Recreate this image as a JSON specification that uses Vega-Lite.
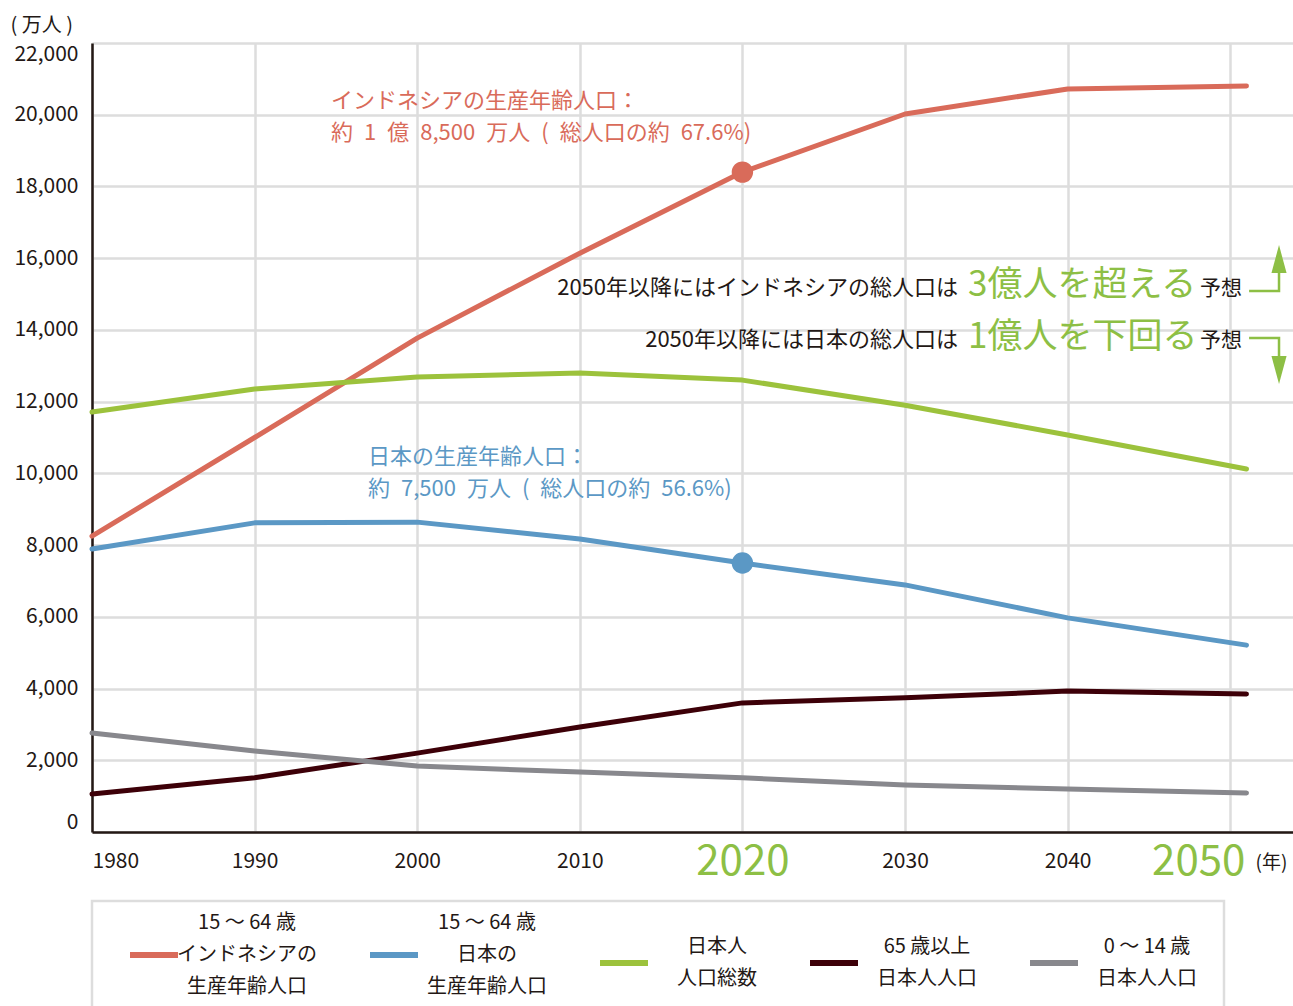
{
  "$schema": "https://vega.github.io/schema/vega-lite/v6.json",
  "width": 1201,
  "height": 789,
  "autosize": {"type": "none"},
  "padding": {"left": 92, "top": 43, "right": 0, "bottom": 174},
  "background": "white",
  "config": {
    "font": "Noto Sans CJK JP",
    "view": {"stroke": null},
    "style": {"guide-label": {"lineHeight": 32}},
    "axis": {
      "domainColor": "#231815",
      "domainWidth": 2.5,
      "gridColor": "#dddddd",
      "gridWidth": 2.5,
      "ticks": false,
      "labelColor": "#231815",
      "labelFontSize": 21,
      "titleColor": "#231815",
      "titleFontWeight": "normal"
    },
    "legend": {"strokeWidth": 2.5}
  },
  "datasets": {
    "pop": [
      {"series": "15 ～ 64 歳|インドネシアの|生産年齢人口", "year": 1980, "value": 8250},
      {"series": "15 ～ 64 歳|インドネシアの|生産年齢人口", "year": 1990, "value": 11000},
      {"series": "15 ～ 64 歳|インドネシアの|生産年齢人口", "year": 2000, "value": 13770},
      {"series": "15 ～ 64 歳|インドネシアの|生産年齢人口", "year": 2010, "value": 16140},
      {"series": "15 ～ 64 歳|インドネシアの|生産年齢人口", "year": 2020, "value": 18400},
      {"series": "15 ～ 64 歳|インドネシアの|生産年齢人口", "year": 2030, "value": 20020},
      {"series": "15 ～ 64 歳|インドネシアの|生産年齢人口", "year": 2040, "value": 20720},
      {"series": "15 ～ 64 歳|インドネシアの|生産年齢人口", "year": 2051, "value": 20800},
      {"series": "15 ～ 64 歳|日本の|生産年齢人口", "year": 1980, "value": 7890},
      {"series": "15 ～ 64 歳|日本の|生産年齢人口", "year": 1990, "value": 8620},
      {"series": "15 ～ 64 歳|日本の|生産年齢人口", "year": 2000, "value": 8640},
      {"series": "15 ～ 64 歳|日本の|生産年齢人口", "year": 2010, "value": 8170},
      {"series": "15 ～ 64 歳|日本の|生産年齢人口", "year": 2020, "value": 7500},
      {"series": "15 ～ 64 歳|日本の|生産年齢人口", "year": 2030, "value": 6890},
      {"series": "15 ～ 64 歳|日本の|生産年齢人口", "year": 2040, "value": 5970},
      {"series": "15 ～ 64 歳|日本の|生産年齢人口", "year": 2051, "value": 5210},
      {"series": "日本人|人口総数", "year": 1980, "value": 11710},
      {"series": "日本人|人口総数", "year": 1990, "value": 12350},
      {"series": "日本人|人口総数", "year": 2000, "value": 12690},
      {"series": "日本人|人口総数", "year": 2010, "value": 12800},
      {"series": "日本人|人口総数", "year": 2020, "value": 12600},
      {"series": "日本人|人口総数", "year": 2030, "value": 11900},
      {"series": "日本人|人口総数", "year": 2040, "value": 11070},
      {"series": "日本人|人口総数", "year": 2051, "value": 10120},
      {"series": "65 歳以上|日本人人口", "year": 1980, "value": 1060},
      {"series": "65 歳以上|日本人人口", "year": 1990, "value": 1510},
      {"series": "65 歳以上|日本人人口", "year": 2000, "value": 2200},
      {"series": "65 歳以上|日本人人口", "year": 2010, "value": 2930},
      {"series": "65 歳以上|日本人人口", "year": 2020, "value": 3600},
      {"series": "65 歳以上|日本人人口", "year": 2030, "value": 3740},
      {"series": "65 歳以上|日本人人口", "year": 2040, "value": 3930},
      {"series": "65 歳以上|日本人人口", "year": 2051, "value": 3850},
      {"series": "0 ～ 14 歳|日本人人口", "year": 1980, "value": 2760},
      {"series": "0 ～ 14 歳|日本人人口", "year": 1990, "value": 2260},
      {"series": "0 ～ 14 歳|日本人人口", "year": 2000, "value": 1840},
      {"series": "0 ～ 14 歳|日本人人口", "year": 2010, "value": 1670},
      {"series": "0 ～ 14 歳|日本人人口", "year": 2020, "value": 1510},
      {"series": "0 ～ 14 歳|日本人人口", "year": 2030, "value": 1310},
      {"series": "0 ～ 14 歳|日本人人口", "year": 2040, "value": 1200},
      {"series": "0 ～ 14 歳|日本人人口", "year": 2051, "value": 1090}
    ],
    "callouts": [
      {"kind": "indo", "year": 1994.7, "value": 20380, "text": "インドネシアの生産年齢人口：\n約\u20021\u2002億\u20028,500\u2002万人\u2002(\u2002総人口の約\u200267.6%)"},
      {"kind": "japan", "year": 1996.97, "value": 10455, "text": "日本の生産年齢人口：\n約\u20027,500\u2002万人\u2002(\u2002総人口の約\u200256.6%)"}
    ],
    "notes": [
      {"kind": "lead", "year": 2033.26, "value": 14972, "text": "2050年以降にはインドネシアの総人口は"},
      {"kind": "lead", "year": 2033.26, "value": 13522, "text": "2050年以降には日本の総人口は"},
      {"kind": "big", "year": 2033.87, "value": 14944, "text": "3億人を超える"},
      {"kind": "big", "year": 2033.87, "value": 13494, "text": "1億人を下回る"},
      {"kind": "tail", "year": 2050.72, "value": 14972, "text": "予想"},
      {"kind": "tail", "year": 2050.72, "value": 13522, "text": "予想"}
    ],
    "arrows": [
      {"arrow": "up", "step": 1, "year": 2051.16, "value": 15083},
      {"arrow": "up", "step": 2, "year": 2053.0, "value": 15083},
      {"arrow": "up", "step": 3, "year": 2053.0, "value": 15585},
      {"arrow": "down", "step": 1, "year": 2051.16, "value": 13773},
      {"arrow": "down", "step": 2, "year": 2053.0, "value": 13773},
      {"arrow": "down", "step": 3, "year": 2053.0, "value": 13243}
    ],
    "heads": [
      {"arrow": "up", "year": 2053.0, "value": 15975},
      {"arrow": "down", "year": 2053.0, "value": 12881}
    ]
  },
  "encoding": {
    "x": {
      "field": "year",
      "type": "quantitative",
      "scale": {"domain": [1980, 2053.86], "nice": false, "zero": false},
      "axis": {
        "values": [1980, 1990, 2000, 2010, 2020, 2030, 2040, 2050],
        "format": "d",
        "labelFlush": true,
        "labelPadding": 29,
        "labelBaseline": "middle",
        "grid": true,
        "title": "(年)",
        "titleX": 1179,
        "titleY": 30,
        "titleAlign": "center",
        "titleBaseline": "middle",
        "titleFontSize": 19,
        "labelColor": {"condition": {"test": "datum.value == 2020 || datum.value == 2050", "value": "#8dbf45"}, "value": "#231815"},
        "labelFontSize": {"condition": {"test": "datum.value == 2020 || datum.value == 2050", "value": 42}, "value": 21},
        "labelOffset": {"condition": {"test": "datum.value == 2050", "value": -32}, "value": 0}
      }
    },
    "y": {
      "field": "value",
      "type": "quantitative",
      "scale": {"domain": [0, 22000], "nice": false, "zero": true},
      "axis": {
        "values": [0, 2000, 4000, 6000, 8000, 10000, 12000, 14000, 16000, 18000, 20000, 22000],
        "format": ",d",
        "labelFlush": true,
        "labelPadding": 14,
        "grid": true,
        "title": "( 万人 )",
        "titleAngle": 0,
        "titleX": -82,
        "titleY": -18,
        "titleAlign": "left",
        "titleBaseline": "middle",
        "titleFontSize": 20
      }
    }
  },
  "layer": [
    {
      "data": {"name": "pop"},
      "mark": {"type": "line", "strokeWidth": 5, "strokeCap": "round", "strokeJoin": "round"},
      "encoding": {
        "color": {
          "field": "series",
          "type": "nominal",
          "scale": {
            "domain": ["15 ～ 64 歳|インドネシアの|生産年齢人口", "15 ～ 64 歳|日本の|生産年齢人口", "日本人|人口総数", "65 歳以上|日本人人口", "0 ～ 14 歳|日本人人口"],
            "range": ["#d96b5a", "#5b98c5", "#9cc23c", "#3d0008", "#88888d"]
          },
          "legend": {
            "orient": "none",
            "legendX": 0,
            "legendY": 858,
            "direction": "horizontal",
            "columns": 5,
            "title": null,
            "symbolType": "stroke",
            "symbolSize": 2304,
            "symbolStrokeWidth": 6,
            "symbolOffset": 8,
            "labelAlign": "center",
            "labelOffset": 66,
            "labelFontSize": 20,
            "labelColor": "#231815",
            "labelLimit": 0,
            "labelExpr": "split(datum.label, '|')",
            "columnPadding": 41,
            "padding": 27,
            "strokeColor": "#dddddd",
            "encoding": {
              "labels": {
                "dy": {"value": {"expr": "-(length(split(datum.value, '|')) - 1) * 16"}}
              }
            }
          }
        }
      }
    },
    {
      "data": {"name": "pop"},
      "transform": [
        {"filter": {"and": [{"field": "year", "equal": 2020}, {"field": "series", "oneOf": ["15 ～ 64 歳|インドネシアの|生産年齢人口", "15 ～ 64 歳|日本の|生産年齢人口"]}]}}
      ],
      "mark": {"type": "circle", "size": 460, "opacity": 1},
      "encoding": {
        "color": {"field": "series", "type": "nominal"}
      }
    },
    {
      "data": {"name": "callouts"},
      "transform": [{"filter": "datum.kind == 'indo'"}],
      "mark": {"type": "text", "align": "left", "baseline": "middle", "fontSize": 22, "lineHeight": 32, "lineBreak": "\n", "color": "#d96b5a"},
      "encoding": {"text": {"field": "text"}}
    },
    {
      "data": {"name": "callouts"},
      "transform": [{"filter": "datum.kind == 'japan'"}],
      "mark": {"type": "text", "align": "left", "baseline": "middle", "fontSize": 22, "lineHeight": 32, "lineBreak": "\n", "color": "#5b98c5"},
      "encoding": {"text": {"field": "text"}}
    },
    {
      "data": {"name": "notes"},
      "transform": [{"filter": "datum.kind == 'lead'"}],
      "mark": {"type": "text", "align": "right", "baseline": "alphabetic", "fontSize": 22, "color": "#231815"},
      "encoding": {"text": {"field": "text"}}
    },
    {
      "data": {"name": "notes"},
      "transform": [{"filter": "datum.kind == 'big'"}],
      "mark": {"type": "text", "align": "left", "baseline": "alphabetic", "fontSize": 35, "color": "#8dbf45"},
      "encoding": {"text": {"field": "text"}}
    },
    {
      "data": {"name": "notes"},
      "transform": [{"filter": "datum.kind == 'tail'"}],
      "mark": {"type": "text", "align": "right", "baseline": "alphabetic", "fontSize": 21, "color": "#231815"},
      "encoding": {"text": {"field": "text"}}
    },
    {
      "data": {"name": "arrows"},
      "mark": {"type": "line", "strokeWidth": 2.5, "color": "#8dbf45"},
      "encoding": {
        "detail": {"field": "arrow"},
        "order": {"field": "step", "type": "quantitative"}
      }
    },
    {
      "data": {"name": "heads"},
      "transform": [{"filter": "datum.arrow == 'up'"}],
      "mark": {"type": "point", "shape": "M-0.54,1L0,-1L0.54,1Z", "size": 784, "filled": true, "opacity": 1, "color": "#8dbf45", "strokeWidth": 0},
      "encoding": {}
    },
    {
      "data": {"name": "heads"},
      "transform": [{"filter": "datum.arrow == 'down'"}],
      "mark": {"type": "point", "shape": "M-0.54,-1L0,1L0.54,-1Z", "size": 784, "filled": true, "opacity": 1, "color": "#8dbf45", "strokeWidth": 0},
      "encoding": {}
    }
  ]
}
